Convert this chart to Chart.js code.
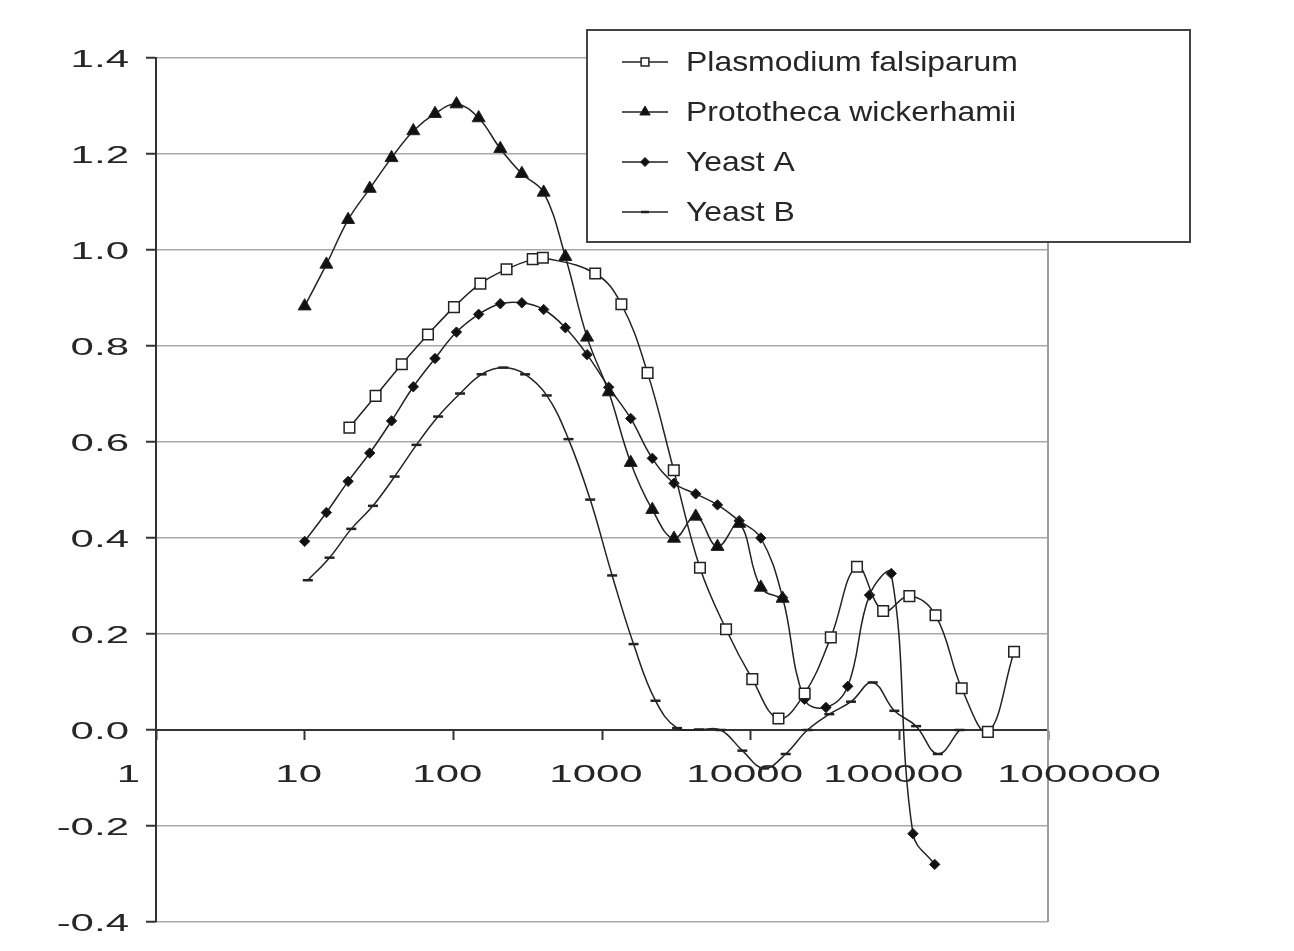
<!DOCTYPE html>
<html>
<head>
<meta charset="utf-8">
<script src="https://cdn.jsdelivr.net/npm/chart.js"></script>
<style>
  html, body { margin: 0; padding: 0; background: #ffffff; }
  #wrap { width: 1294px; height: 951px; }
</style>
</head>
<body>
<div id="wrap"><canvas id="chart" width="1294" height="951"></canvas></div>
<script>
// Absorbance vs dilution, four organisms
const seriesLabels = ['Plasmodium falsiparum', 'Prototheca wickerhamii', 'Yeast A', 'Yeast B'];

const plasmodiumX = [20, 30, 45, 67.5, 101, 152, 228, 342, 400, 900, 1350, 2025, 3040, 4560, 6830,
  10250, 15380, 23070, 34600, 51900, 77850, 116800, 175200, 262700, 394100, 591200];
const plasmodiumY = [0.630, 0.696, 0.762, 0.824, 0.881, 0.930, 0.960, 0.981, 0.984, 0.951, 0.887, 0.744,
  0.541, 0.338, 0.210, 0.106, 0.024, 0.076, 0.193, 0.340, 0.248, 0.279, 0.239, 0.087, -0.004, 0.163];

const protothecaX = [10, 14, 19.6, 27.4, 38.4, 53.8, 75.3, 105, 148, 207, 289, 405, 567, 794, 1110,
  1560, 2180, 3050, 4270, 5980, 8370, 11700, 16400];
const protothecaY = [0.883, 0.970, 1.063, 1.128, 1.192, 1.248, 1.284, 1.304, 1.275, 1.211, 1.159, 1.120,
  0.986, 0.818, 0.704, 0.557, 0.459, 0.399, 0.445, 0.382, 0.430, 0.297, 0.274];

const yeastAX = [10, 14, 19.6, 27.4, 38.4, 53.8, 75.3, 105, 148, 207, 289, 405, 567, 794, 1110,
  1560, 2180, 3050, 4270, 5980, 8370, 11700, 16400, 23000, 32100, 45000, 63000, 88200, 123500, 172900];
const yeastAY = [0.393, 0.453, 0.518, 0.577, 0.644, 0.715, 0.774, 0.829, 0.866, 0.888, 0.890, 0.876,
  0.838, 0.782, 0.714, 0.649, 0.566, 0.514, 0.492, 0.469, 0.436, 0.400, 0.276, 0.064, 0.047, 0.091,
  0.281, 0.326, -0.216, -0.280];

const yeastBX = [10.5, 14.7, 20.6, 28.8, 40.3, 56.5, 79, 111, 155, 217, 304, 425, 595, 833, 1170,
  1630, 2290, 3200, 4480, 6280, 8790, 12300, 17200, 24100, 33800, 47300, 66200, 92600, 129700, 181500, 254100];
const yeastBY = [0.312, 0.359, 0.419, 0.467, 0.528, 0.594, 0.653, 0.701, 0.741, 0.755, 0.741, 0.697,
  0.606, 0.480, 0.322, 0.179, 0.061, 0.004, 0.001, 0.000, -0.043, -0.080, -0.050, 0.000, 0.033, 0.059,
  0.099, 0.040, 0.008, -0.050, 0.000];

const xTickValues = [1, 10, 100, 1000, 10000, 100000, 1000000];
const xTickLabels = ['1', '10', '100', '1000', '10000', '100000', '1000000'];
const yTickValues = [-0.4, -0.2, 0, 0.2, 0.4, 0.6, 0.8, 1.0, 1.2, 1.4];
const yTickLabels = ['-0.4', '-0.2', '0.0', '0.2', '0.4', '0.6', '0.8', '1.0', '1.2', '1.4'];

function points(xs, ys) { return xs.map((x, i) => ({ x: x, y: ys[i] })); }

const INK = '#222222';
const TEXT = '#262626';
const FONT = '"Liberation Sans", Arial, Helvetica, sans-serif';

const styles = [
  { pointStyle: 'rect', pointRadius: 7.5, pointBackgroundColor: '#ffffff', pointBorderWidth: 1.5, legendRadius: 5.5 },
  { pointStyle: 'triangle', pointRadius: 7.5, pointBackgroundColor: '#111111', pointBorderWidth: 1, legendRadius: 6 },
  { pointStyle: 'rectRot', pointRadius: 5.2, pointBackgroundColor: '#111111', pointBorderWidth: 1, legendRadius: 4.5 },
  { pointStyle: 'line', pointRadius: 5, pointBackgroundColor: '#111111', pointBorderWidth: 2.5, legendRadius: 4 }
];
const seriesData = [
  points(plasmodiumX, plasmodiumY),
  points(protothecaX, protothecaY),
  points(yeastAX, yeastAY),
  points(yeastBX, yeastBY)
];

const datasets = seriesLabels.map((label, i) => ({
  label: label,
  data: seriesData[i],
  borderColor: INK,
  borderWidth: 1.5,
  tension: 0.4,
  fill: false,
  pointStyle: styles[i].pointStyle,
  pointRadius: styles[i].pointRadius,
  pointHoverRadius: styles[i].pointRadius,
  pointBackgroundColor: styles[i].pointBackgroundColor,
  pointBorderColor: INK,
  pointBorderWidth: styles[i].pointBorderWidth
}));

// Draw text squeezed/stretched horizontally around its anchor
function wideText(ctx, text, x, y, align, sx) {
  ctx.save();
  ctx.translate(x, y);
  ctx.scale(sx, 1);
  ctx.textAlign = align;
  ctx.textBaseline = 'middle';
  ctx.fillText(text, 0, 0);
  ctx.restore();
}

function marker(ctx, style, r, x, y) {
  const opts = { pointStyle: style.pointStyle, radius: r, rotation: 0, borderWidth: style.pointBorderWidth };
  ctx.fillStyle = style.pointBackgroundColor;
  ctx.strokeStyle = INK;
  ctx.lineWidth = style.pointBorderWidth;
  Chart.helpers.drawPoint(ctx, opts, x, y);
}

const decorations = {
  id: 'decorations',
  beforeDatasetsDraw(chart) {
    const { ctx, chartArea: a } = chart;
    ctx.save();
    ctx.strokeStyle = '#9c9c9c';
    ctx.lineWidth = 2;
    ctx.beginPath();
    ctx.moveTo(a.right, a.top);
    ctx.lineTo(a.right, a.bottom);
    ctx.stroke();
    ctx.restore();
  },
  afterDraw(chart) {
    const { ctx, chartArea: a, scales } = chart;
    ctx.save();
    ctx.fillStyle = TEXT;
    ctx.font = '24px ' + FONT;

    // value axis labels
    yTickValues.forEach((v, i) => {
      const py = scales.y.getPixelForValue(v);
      wideText(ctx, yTickLabels[i], a.left - 27, py + 2, 'right', 1.75);
    });

    // dilution axis labels, sitting under the zero line
    const y0 = scales.y.getPixelForValue(0);
    const last = xTickValues.length - 1;
    xTickValues.forEach((v, i) => {
      const px = scales.x.getPixelForValue(v);
      if (i === 0) {
        wideText(ctx, xTickLabels[i], px - 16, y0 + 45, 'right', 1.75);
      } else if (i === last) {
        wideText(ctx, xTickLabels[i], px + 31, y0 + 45, 'center', 1.75);
      } else {
        wideText(ctx, xTickLabels[i], px - 6, y0 + 45, 'center', 1.75);
      }
    });

    // legend box
    const box = { left: 587, top: 30, width: 603, height: 212 };
    ctx.fillStyle = '#ffffff';
    ctx.fillRect(box.left, box.top, box.width, box.height);
    ctx.strokeStyle = '#444444';
    ctx.lineWidth = 2;
    ctx.strokeRect(box.left, box.top, box.width, box.height);

    seriesLabels.forEach((label, i) => {
      const ry = box.top + 32 + i * 50;
      ctx.strokeStyle = INK;
      ctx.lineWidth = 1.5;
      ctx.beginPath();
      ctx.moveTo(622, ry);
      ctx.lineTo(668, ry);
      ctx.stroke();
      marker(ctx, styles[i], styles[i].legendRadius, 645, ry);
      ctx.fillStyle = TEXT;
      ctx.font = '28px ' + FONT;
      wideText(ctx, label, 686, ry + 1, 'left', 1.14);
    });
    ctx.restore();
  }
};

new Chart(document.getElementById('chart'), {
  type: 'line',
  data: { datasets: datasets },
  options: {
    responsive: false,
    animation: false,
    events: [],
    layout: { padding: { left: 156, right: 246, top: 58, bottom: 29 } },
    plugins: { legend: { display: false }, tooltip: { enabled: false } },
    scales: {
      x: {
        type: 'logarithmic',
        min: 1,
        max: 1000000,
        position: { y: 0 },
        afterBuildTicks(scale) { scale.ticks = xTickValues.map(v => ({ value: v })); },
        afterFit(scale) { scale.height = 0; },
        ticks: { display: false },
        grid: { drawOnChartArea: false, drawTicks: true, tickLength: 9, tickColor: '#333333', tickWidth: 2 },
        border: { display: true, color: '#333333', width: 2 }
      },
      y: {
        type: 'linear',
        min: -0.4,
        max: 1.4,
        afterBuildTicks(scale) { scale.ticks = yTickValues.map(v => ({ value: v })); },
        afterFit(scale) { scale.width = 0; },
        ticks: { display: false },
        grid: { color: '#a8a8a8', lineWidth: 1.5, drawTicks: true, tickLength: 10, tickColor: '#333333', tickWidth: 2 },
        border: { display: true, color: '#333333', width: 2 }
      }
    }
  },
  plugins: [decorations]
});
</script>
</body>
</html>
